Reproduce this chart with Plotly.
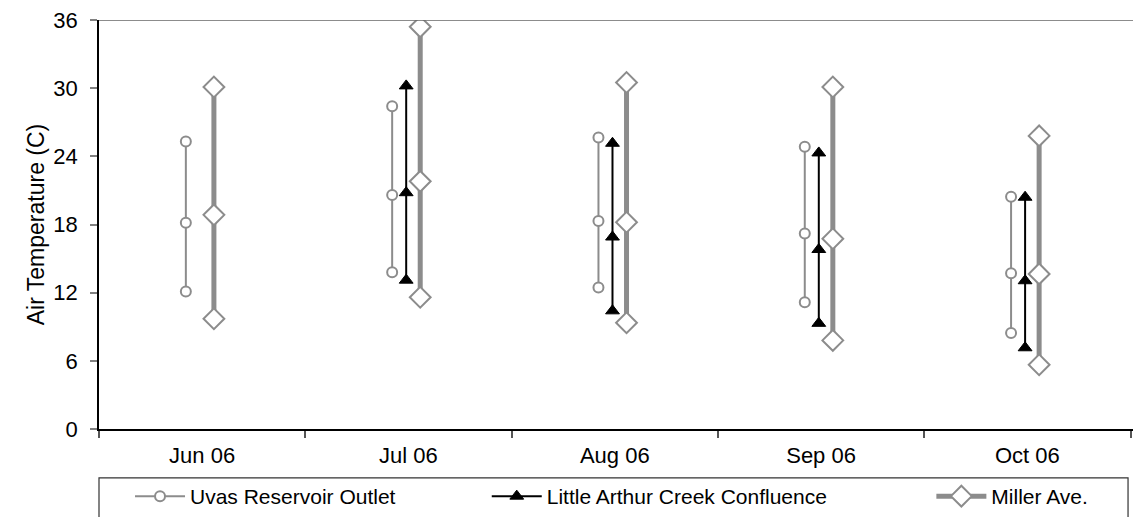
import plotly.graph_objects as go

months = ["Jun 06", "Jul 06", "Aug 06", "Sep 06", "Oct 06"]

uvas_min = [12.1, 13.8, 12.45, 11.15, 8.45]
uvas_mean = [18.15, 20.6, 18.3, 17.2, 13.7]
uvas_max = [25.3, 28.4, 25.65, 24.85, 20.45]

la_min = [None, 13.1, 10.4, 9.3, 7.15]
la_mean = [None, 20.8, 16.9, 15.8, 13.05]
la_max = [None, 30.2, 25.15, 24.3, 20.4]

miller_min = [9.7, 11.6, 9.35, 7.8, 5.65]
miller_mean = [18.85, 21.8, 18.2, 16.75, 13.65]
miller_max = [30.1, 35.4, 30.5, 30.1, 25.8]

series_names = ["Uvas Reservoir Outlet", "Little Arthur Creek Confluence", "Miller Ave."]
offsets = [-0.079, -0.011, 0.057]

GRAY = "#8c8c8c"
FONT = "Arial, Liberation Sans, sans-serif"


def build(mins, means, maxs, off):
    xs, ys = [], []
    for i in range(len(months)):
        if mins[i] is None:
            continue
        xs += [i + off] * 3 + [None]
        ys += [maxs[i], means[i], mins[i], None]
    return xs, ys


fig = go.Figure()

x, y = build(uvas_min, uvas_mean, uvas_max, offsets[0])
fig.add_trace(go.Scatter(
    x=x, y=y, mode="lines+markers", name=series_names[0],
    line=dict(color=GRAY, width=2),
    marker=dict(symbol="circle", size=10, color="white", line=dict(color=GRAY, width=2)),
    legend="legend",
))

x, y = build(la_min, la_mean, la_max, offsets[1])
fig.add_trace(go.Scatter(
    x=x, y=y, mode="lines+markers", name=series_names[1],
    line=dict(color="black", width=2),
    marker=dict(symbol="triangle-up", size=12, color="black", line=dict(color="black", width=1)),
    legend="legend2",
))

x, y = build(miller_min, miller_mean, miller_max, offsets[2])
fig.add_trace(go.Scatter(
    x=x, y=y, mode="lines+markers", name=series_names[2],
    line=dict(color=GRAY, width=5),
    marker=dict(symbol="diamond", size=16, color="white", line=dict(color=GRAY, width=2)),
    legend="legend3",
))

legend_common = dict(
    orientation="h", yanchor="middle", y=-0.166, xanchor="left",
    bgcolor="rgba(0,0,0,0)", borderwidth=0, itemwidth=50,
    font=dict(family=FONT, size=21, color="black"),
)

fig.update_layout(
    width=1133, height=517,
    margin=dict(l=99, r=0, t=20, b=87),
    paper_bgcolor="white", plot_bgcolor="white",
    font=dict(family=FONT, color="black"),
    showlegend=True,
    legend=dict(legend_common, x=0.03),
    legend2=dict(legend_common, x=0.375),
    legend3=dict(legend_common, x=0.805),
    xaxis=dict(
        range=[-0.5, 4.512],
        tickmode="array", tickvals=list(range(len(months))), ticktext=months,
        ticks="outside", ticklen=6, tickcolor="rgba(0,0,0,0)",
        tickfont=dict(family=FONT, size=22, color="black"),
        showline=True, linecolor="black", linewidth=2,
        showgrid=False, zeroline=False,
        minor=dict(tickmode="array", tickvals=[i - 0.5 for i in range(len(months) + 1)],
                   ticks="outside", ticklen=7, tickcolor="#555555", tickwidth=1.5, showgrid=False),
    ),
    yaxis=dict(
        range=[0, 36], tickmode="linear", tick0=0, dtick=6,
        ticks="outside", ticklen=7, tickcolor="#808080", tickwidth=1.5,
        ticklabelstandoff=8,
        tickfont=dict(family=FONT, size=22, color="black"),
        showline=True, linecolor="black", linewidth=1.5,
        showgrid=False, zeroline=False,
        title=dict(text="Air Temperature (C)", font=dict(family=FONT, size=23, color="black"), standoff=2),
    ),
    shapes=[
        dict(type="line", xref="paper", yref="y", x0=0, x1=1, y0=36, y1=36,
             line=dict(color="#666666", width=1.5)),
        dict(type="rect", xref="paper", yref="paper", x0=0, x1=0.9952, y0=-0.2250, y1=-0.1195,
             line=dict(color="#333333", width=1.2), fillcolor="rgba(0,0,0,0)"),
    ],
)

fig.write_html("out.html")
